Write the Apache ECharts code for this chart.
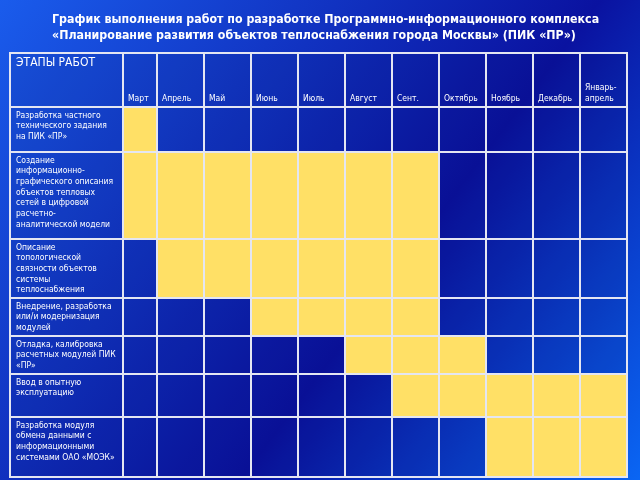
<!DOCTYPE html>
<html><head><meta charset="utf-8">
<script src="https://cdn.jsdelivr.net/npm/echarts@6/dist/echarts.min.js"></script>
<style>html,body{margin:0;padding:0;}#c{width:640px;height:480px;}</style>
</head><body><div id="c"></div>
<script>
// ---- data ----
const titleText = 'График выполнения работ по разработке Программно-информационного комплекса\n«Планирование развития объектов теплоснабжения города Москвы» (ПИК «ПР»)';
const headerLabel = 'ЭТАПЫ РАБОТ';
const months = ['Март','Апрель','Май','Июнь','Июль','Август','Сент.','Октябрь','Ноябрь','Декабрь','Январь-\nапрель'];
const stages = [
  'Разработка частного\nтехнического задания\nна ПИК «ПР»',
  'Создание\nинформационно-\nграфического описания\nобъектов тепловых\nсетей в цифровой\nрасчетно-\nаналитической модели',
  'Описание\nтопологической\nсвязности объектов\nсистемы\nтеплоснабжения',
  'Внедрение, разработка\nили/и модернизация\nмодулей',
  'Отладка, калибровка\nрасчетных модулей ПИК\n«ПР»',
  'Ввод в опытную\nэксплуатацию',
  'Разработка модуля\nобмена данными с\nинформационными\nсистемами ОАО «МОЭК»'
];
// first and last month index (inclusive) of each stage
const stageStart = [0, 0, 1, 3, 5, 6, 8];
const stageEnd   = [0, 6, 6, 6, 7, 10, 10];

// ---- layout (table geometry in axis units) ----
const colWidths = [113, 34, 47, 47, 47, 47, 47, 47, 47, 47, 47, 47];
const rowHeights = [54, 45, 87, 59, 38, 38, 43, 60];
const colEdges = [0]; colWidths.forEach(w => colEdges.push(colEdges[colEdges.length-1] + w));
const rowEdges = [0]; rowHeights.forEach(h => rowEdges.push(rowEdges[rowEdges.length-1] + h));

const FONT = '"DejaVu Sans Condensed", "DejaVu Sans", sans-serif';

// kinds: 0 empty, 1 work, 2 stage label, 3 month header, 4 corner header
const cells = [];
cells.push([0, 0, 4]);
months.forEach((m, c) => cells.push([c + 1, 0, 3]));
stages.forEach((s, r) => {
  cells.push([0, r + 1, 2]);
  months.forEach((m, c) => {
    const on = (c >= stageStart[r] && c <= stageEnd[r]) ? 1 : 0;
    cells.push([c + 1, r + 1, on]);
  });
});

function renderItem(params, api) {
  const c = api.value(0), r = api.value(1), kind = api.value(2);
  const p0 = api.coord([colEdges[c], rowEdges[r]]);
  const p1 = api.coord([colEdges[c + 1], rowEdges[r + 1]]);
  const x = p0[0], y = p0[1], w = p1[0] - p0[0], h = p1[1] - p0[1];
  const children = [{
    type: 'rect',
    shape: { x: x, y: y, width: w, height: h },
    style: { fill: kind === 1 ? '#ffe066' : 'rgba(0,0,40,0.08)', stroke: '#e4e6f2', lineWidth: 2 }
  }];
  if (kind === 2) {
    children.push({ type: 'text', style: { text: stages[r - 1], x: x + 6, y: y + 3,
      fill: '#fff', font: '8.5px ' + FONT, lineHeight: 10.7, textAlign: 'left', textVerticalAlign: 'top' } });
  } else if (kind === 3) {
    children.push({ type: 'text', style: { text: months[c - 1], x: x + 5, y: y + h - 3,
      fill: '#fff', font: '8.5px ' + FONT, lineHeight: 11, textAlign: 'left', textVerticalAlign: 'bottom' } });
  } else if (kind === 4) {
    children.push({ type: 'text', style: { text: headerLabel, x: x + 6, y: y + 4,
      fill: '#fff', font: '12px ' + FONT, textAlign: 'left', textVerticalAlign: 'top' } });
  }
  return { type: 'group', children: children };
}

const chart = echarts.init(document.getElementById('c'));
chart.setOption({
  animation: false,
  backgroundColor: new echarts.graphic.LinearGradient(0, 0, 1, 1, [
    { offset: 0, color: '#1a5cec' },
    { offset: 0.6, color: '#0a12a0' },
    { offset: 1, color: '#0a66f4' }
  ]),
  title: {
    text: titleText, left: 47, top: 7,
    textStyle: { color: '#fff', fontWeight: 'bold', fontSize: 12.3, lineHeight: 16, fontFamily: FONT }
  },
  grid: { left: 10, right: 13, top: 53, bottom: 3 },
  xAxis: { type: 'value', min: 0, max: colEdges[colEdges.length - 1], show: false },
  yAxis: { type: 'value', min: 0, max: rowEdges[rowEdges.length - 1], inverse: true, show: false },
  series: [{
    type: 'custom', renderItem: renderItem, clip: false,
    encode: { x: 0, y: 1 }, data: cells, silent: true
  }]
});
</script></body></html>
